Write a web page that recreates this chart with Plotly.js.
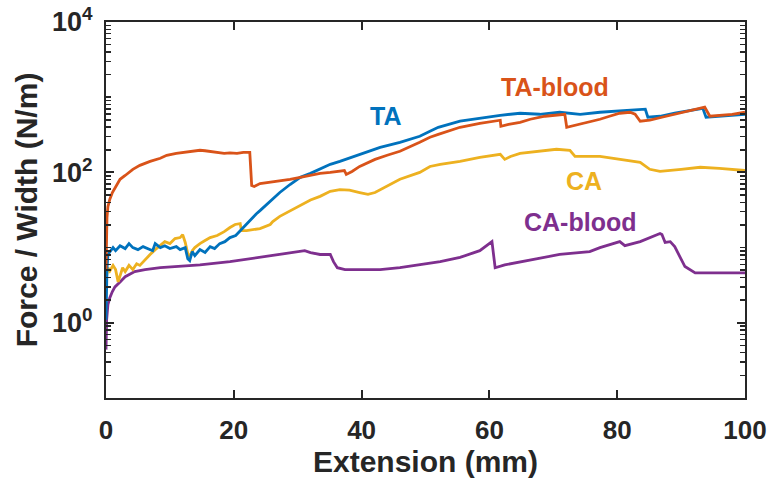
<!DOCTYPE html>
<html>
<head>
<meta charset="utf-8">
<script src="https://cdn.plot.ly/plotly-3.0.1.min.js"></script>
<style>html,body{margin:0;padding:0;background:#fff}#chart{width:774px;height:484px}</style>
</head>
<body>
<div id="chart"></div>
<script>
// Extension (mm) and Force/Width (N/m)
const taBloodX = [0,0.05,0.15,0.3,0.6,1.0,1.5,2.2,3.0,4.2,5.3,6.9,8.5,9.5,11.0,12.4,13.5,14.7,15.5,16.3,17.4,18.5,19.4,20.5,21.5,22.5,22.8,23.2,24.1,25.7,27.2,28.8,30.4,32.0,33.5,35.1,36.6,37.3,37.6,38.5,39.7,42.1,44.0,46.0,49.1,50.7,52.0,55.4,58.5,61.7,61.8,63.0,64.8,66.4,68.7,70.0,71.8,72.1,73.4,75.7,77.3,78.8,80.4,82.0,82.8,83.6,85.1,87.0,89.0,91.0,93.0,93.7,94.5,96.1,98,100];
const taBloodY = [5.1,12.8,25,35,44,54,65,81,91,110,124,140,154,169,179,185,191,197,194,191,185,179,182,179,185,185,67,65,71,74,78,81,86,91,97,100,103,106,94,103,120,149,169,191,251,293,321,398,450,494,411,436,464,509,558,575,593,398,423,479,509,558,612,631,593,479,494,541,593,651,713,736,558,575,593,631];

const taX = [0,0.05,0.15,0.3,0.6,1.1,1.5,2.2,3.0,3.6,4.2,5.0,5.8,6.5,7.3,7.7,8.5,9.2,10.0,11.0,11.6,12.4,12.8,13.1,13.5,13.9,14.7,15.5,16.3,17.0,17.8,18.6,19.4,20.3,21.0,21.8,22.6,23.5,24.1,25.7,27.2,28.8,30.4,32.0,33.5,35.1,36.6,39.7,42.9,46.0,49.1,50.7,52.0,55.4,58.5,61.7,64.8,67.9,71.0,74.2,77.3,80.4,82.0,84.4,84.8,86.7,89.0,91.0,93.0,93.4,93.9,96.1,98,100];
const taY = [1.1,2.0,5.1,8.1,8.85,10,9.1,10.6,9.7,11.3,10,9.4,10.3,9.7,9.1,11.3,10,10.6,9.7,10.3,9.4,10,7.1,6.7,8.85,7.8,9.4,8.6,10.3,9.7,11.3,12,13.6,14.5,16.8,19.7,23.6,28,31,41,54,69,86,97,110,128,140,174,215,251,302,352,398,479,525,575,612,593,631,593,631,651,671,692,541,558,612,651,692,713,541,558,575,593];

const caX = [0,0.15,0.3,0.6,1.1,1.5,1.9,2.2,2.6,3.0,3.6,4.2,4.8,5.3,6.1,6.9,7.7,8.5,9.2,10.0,10.8,11.6,12.0,12.4,12.8,13.1,13.5,13.9,14.7,15.5,16.3,17.4,18.5,19.4,20.2,21.0,21.2,22.0,23.5,24.1,25.7,26.1,27.2,28.8,30.4,32.0,33.5,35.1,36.6,38.1,39.7,41.0,42.1,42.9,44.4,46.0,49.1,50.7,52.3,55.4,58.5,61.7,62.4,63.3,64.8,67.9,70.5,72.6,73.4,77.3,80.4,83.6,85.1,86.7,90,93.0,96,100];
const caY = [3.7,4.8,5.4,4.9,5.8,5.1,3.5,4.2,5.4,4.8,5.8,5.1,6.1,5.8,6.9,8.1,9.4,10.6,12,11.3,13.2,13.6,14.9,11.7,8.3,7.6,9.1,10,11.3,12.4,13.6,14.5,16.3,18.5,20.3,20.9,16.8,16.8,17.4,17.9,20.3,22.2,26,31,37,43,48,56,59,58,54,51,54,59,69,81,100,120,128,140,158,174,149,163,179,191,203,197,163,163,149,136,110,103,110,117,113,106];

const caBloodX = [0,0.1,0.3,0.6,1.0,1.4,2.2,3.0,4.5,6.1,8.5,11.6,14.7,19.4,24.1,27.2,28.8,30.4,31.1,32.0,33.5,35.1,35.6,36.2,37.4,39.7,42.9,46.0,49.1,52.3,55.4,58.5,60.4,60.9,62.4,66.4,71.0,75.7,77.3,80.4,81.2,83.6,86.7,87.0,87.5,88.3,89.0,89.8,90.6,92.2,95,100];
const caBloodY = [0.44,1.1,1.74,2.15,2.6,3.0,3.5,4.1,4.8,5.1,5.4,5.6,5.9,6.5,7.4,8.1,8.6,8.85,9.1,8.6,8.1,8.1,6.5,5.4,5.1,5.1,5.1,5.4,5.9,6.5,7.4,9.1,12.0,5.4,5.9,6.9,8.1,8.85,10,12,10.6,12,15.4,14.9,11.7,12,10.3,7.6,5.6,4.6,4.6,4.6];

const seriesNames = ['TA', 'TA-blood', 'CA', 'CA-blood'];
const seriesColors = ['#0072BD', '#D95319', '#EDB120', '#7E2F8E'];
const labelX = [43.7, 70.3, 74.8, 74.2];
const labelY = [558, 1360, 76, 22];

const xTickVals = [0, 20, 40, 60, 80, 100];
const yTickVals = [1, 100, 10000];
const yTickText = ['10<sup>0</sup>', '10<sup>2</sup>', '10<sup>4</sup>'];

const xs = [taX, taBloodX, caX, caBloodX];
const ys = [taY, taBloodY, caY, caBloodY];
const order = [3, 2, 0, 1];
const traces = order.map(i => ({
  x: xs[i], y: ys[i], type: 'scatter', mode: 'lines', name: seriesNames[i],
  line: {color: seriesColors[i], width: 2.8}, showlegend: false
}));
// empty helper trace so the minor-tick overlay axis is drawn
traces.unshift({x: [null], y: [null], yaxis: 'y2', type: 'scatter', mode: 'lines', showlegend: false, hoverinfo: 'skip'});

const font = {family: 'Liberation Sans, Arial, sans-serif', color: '#262626'};
const layout = {
  width: 774, height: 484,
  margin: {l: 106, r: 29, t: 22, b: 86},
  paper_bgcolor: '#fff', plot_bgcolor: '#fff',
  font: font,
  xaxis: {
    range: [0, 100], tickvals: xTickVals, ticks: 'inside', ticklen: 8, tickwidth: 2,
    tickcolor: '#262626', showline: true, linewidth: 2, linecolor: '#262626', mirror: 'ticks',
    showgrid: false, zeroline: false, ticklabelstandoff: 8,
    tickfont: {family: font.family, size: 26, color: '#262626', weight: 'bold'},
    title: {text: '<b>Extension (mm)</b>', font: {family: font.family, size: 30, color: '#262626'}, standoff: 4}
  },
  yaxis: {
    type: 'log', range: [-1, 4], tickvals: yTickVals, ticktext: yTickText,
    ticks: 'inside', ticklen: 8, tickwidth: 2, tickcolor: '#262626',
    showline: true, linewidth: 2, linecolor: '#262626', mirror: 'ticks',
    showgrid: false, zeroline: false, ticklabelstandoff: 6,
    tickfont: {family: font.family, size: 27, color: '#262626', weight: 'bold'},
    title: {text: '<b>Force / Width (N/m)</b>', font: {family: font.family, size: 30, color: '#262626'}, standoff: 6}
  },
  yaxis2: {
    type: 'log', range: [-1, 4], overlaying: 'y', side: 'left', tickmode: 'linear', tick0: 0, dtick: 'D1',
    ticks: 'inside', ticklen: 5, tickwidth: 1.5, tickcolor: '#262626', showticklabels: false,
    showline: false, mirror: 'ticks', showgrid: false, zeroline: false
  },
  annotations: seriesNames.map((n, i) => ({
    x: labelX[i], y: Math.log10(labelY[i]), xref: 'x', yref: 'y', text: '<b>' + n + '</b>',
    showarrow: false, font: {family: font.family, size: 25, color: seriesColors[i]}
  }))
};

Plotly.newPlot('chart', traces, layout, {displayModeBar: false, staticPlot: true});
</script>
</body>
</html>
